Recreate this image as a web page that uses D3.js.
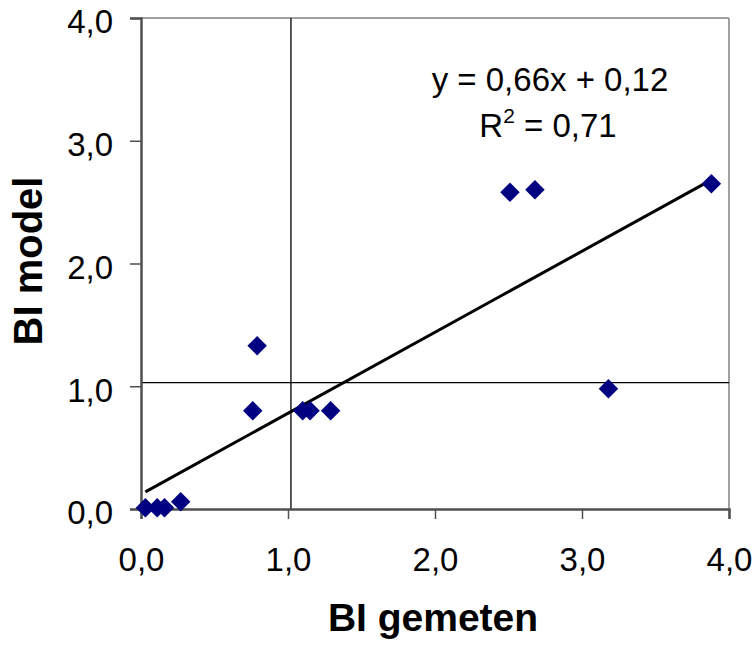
<!DOCTYPE html>
<html>
<head>
  <title>BI model vs BI gemeten</title>
  <script src="https://d3js.org/d3.v7.min.js"></script>
  <style>
    body { margin: 0; background: #fff; }
    text { font-family: "Liberation Sans", Arial, sans-serif; fill: #000; }
  </style>
</head>
<body>
  <div id="chart"></div>

  <script>
    // values
    var biGemeten = [0.03, 0.11, 0.16, 0.27, 0.76, 0.79, 1.10, 1.15, 1.29, 2.51, 2.68, 3.18, 3.88];
    var biModel   = [0.01, 0.01, 0.01, 0.06, 0.80, 1.33, 0.80, 0.80, 0.80, 2.58, 2.60, 0.98, 2.65];
    var tickValues = [0, 1, 2, 3, 4];
    var trendSlope = 0.66;
    var trendIntercept = 0.12;
    var rSquared = 0.71;
    var refLineX = 1.02;
    var refLineY = 1.03;

    var width = 752, height = 649;
    var margin = { top: 18, right: 23, bottom: 140, left: 141 };

    var fmt = function(v) { return d3.format(".1f")(v).replace(".", ","); };
    var fmt2 = function(v) { return d3.format(".2f")(v).replace(".", ","); };

    var svg = d3.select("#chart")
      .append("svg")
      .attr("width", width)
      .attr("height", height);

    var x = d3.scaleLinear().domain([0, 4]).range([margin.left, width - margin.right]);
    var y = d3.scaleLinear().domain([0, 4]).range([height - margin.bottom, margin.top]);

    // frame: top and right in light gray
    svg.append("line")
      .attr("x1", x(0)).attr("x2", x(4)).attr("y1", y(4)).attr("y2", y(4))
      .attr("stroke", "#a0a0a0").attr("stroke-width", 2);
    svg.append("line")
      .attr("x1", x(4)).attr("x2", x(4)).attr("y1", y(4)).attr("y2", y(0))
      .attr("stroke", "#a0a0a0").attr("stroke-width", 2);

    // reference lines
    svg.append("line")
      .attr("x1", x(refLineX)).attr("x2", x(refLineX)).attr("y1", y(4)).attr("y2", y(0))
      .attr("stroke", "#000").attr("stroke-width", 1.3);
    svg.append("line")
      .attr("x1", x(0)).attr("x2", x(4)).attr("y1", y(refLineY)).attr("y2", y(refLineY))
      .attr("stroke", "#000").attr("stroke-width", 1.3);

    // axes
    var xAxis = d3.axisBottom(x).tickValues(tickValues).tickSize(10).tickFormat(fmt);
    var yAxis = d3.axisLeft(y).tickValues(tickValues).tickSize(11).tickFormat(fmt);

    var gx = svg.append("g")
      .attr("transform", "translate(0," + y(0) + ")")
      .call(xAxis);
    var gy = svg.append("g")
      .attr("transform", "translate(" + x(0) + ",0)")
      .call(yAxis);

    [gx, gy].forEach(function(g) {
      g.select(".domain").attr("stroke", "#505050").attr("stroke-width", 2.5);
      g.selectAll(".tick line").attr("stroke", "#505050").attr("stroke-width", 1.5);
      g.selectAll(".tick text")
        .attr("font-family", "'Liberation Sans', Arial, sans-serif")
        .attr("font-size", 33)
        .attr("fill", "#000");
    });
    gx.selectAll(".tick text").attr("y", 39).attr("dy", "0.71em");
    gy.selectAll(".tick text").attr("x", -28).attr("dy", "0.45em");

    // trend line
    var xExtent = d3.extent(biGemeten);
    svg.append("line")
      .attr("x1", x(xExtent[0])).attr("y1", y(trendSlope * xExtent[0] + trendIntercept))
      .attr("x2", x(xExtent[1])).attr("y2", y(trendSlope * xExtent[1] + trendIntercept))
      .attr("stroke", "#000").attr("stroke-width", 3);

    // points
    var diamond = d3.symbol().type(d3.symbolSquare).size(190);
    svg.selectAll(".pt")
      .data(biGemeten.map(function(v, i) { return [v, biModel[i]]; }))
      .enter()
      .append("path")
      .attr("class", "pt")
      .attr("d", diamond)
      .attr("transform", function(d) {
        return "translate(" + x(d[0]) + "," + y(d[1]) + ") rotate(45)";
      })
      .attr("fill", "#000080");

    // equation
    svg.append("text")
      .attr("x", 550).attr("y", 91)
      .attr("text-anchor", "middle")
      .attr("font-size", 33)
      .text("y = " + fmt2(trendSlope) + "x + " + fmt2(trendIntercept));
    var r2 = svg.append("text")
      .attr("x", 548).attr("y", 137)
      .attr("text-anchor", "middle")
      .attr("font-size", 33);
    r2.append("tspan").text("R");
    r2.append("tspan").attr("font-size", 21).attr("dy", -14).text("2");
    r2.append("tspan").attr("dy", 14).text(" = " + fmt2(rSquared));

    // axis titles
    svg.append("text")
      .attr("x", 433).attr("y", 631)
      .attr("text-anchor", "middle")
      .attr("font-size", 39)
      .attr("font-weight", "bold")
      .text("BI gemeten");
    svg.append("text")
      .attr("transform", "translate(42,261) rotate(-90)")
      .attr("text-anchor", "middle")
      .attr("font-size", 40)
      .attr("font-weight", "bold")
      .text("BI model");
  </script>
</body>
</html>
